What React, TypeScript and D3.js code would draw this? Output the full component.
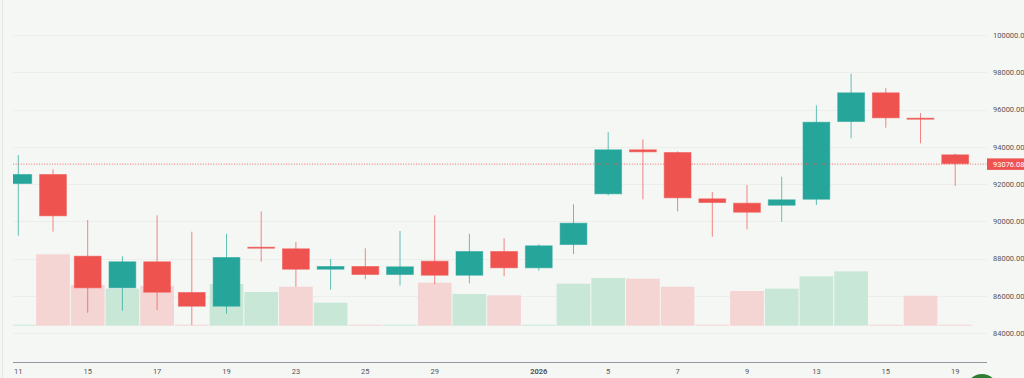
import React from "react";
import * as d3 from "d3";

const dates = [
  "2025-12-11", "2025-12-12", "2025-12-15", "2025-12-16", "2025-12-17", "2025-12-18", "2025-12-19",
  "2025-12-22", "2025-12-23", "2025-12-24", "2025-12-25", "2025-12-26", "2025-12-29", "2025-12-30",
  "2025-12-31", "2026-01-01", "2026-01-02", "2026-01-05", "2026-01-06", "2026-01-07", "2026-01-08",
  "2026-01-09", "2026-01-12", "2026-01-13", "2026-01-14", "2026-01-15", "2026-01-16", "2026-01-19",
];
const opens = [92010, 92546, 88163, 86414, 87863, 86216, 85427, 88646, 88560, 87412, 87611, 87128, 87895, 87090,
  88415, 87487, 88737, 91457, 93871, 93726, 91242, 91006, 90845, 91167, 95336, 96929, 95567, 93603];
const highs = [93566, 92798, 90078, 88131, 90330, 89451, 89343, 90545, 88898, 87986, 88560, 89488, 90330, 89343,
  89097, 88775, 90921, 94799, 94408, 93760, 91580, 91956, 92401, 96232, 97927, 97160, 95819, 93640];
const lows = [89236, 89451, 85105, 85212, 85250, 84445, 85052, 87841, 86500, 86339, 86897, 86554, 86645, 86682,
  87058, 87358, 88254, 91400, 91189, 90545, 89182, 89579, 89987, 90883, 94461, 95030, 94193, 91902];
const closes = [92546, 90277, 86414, 87863, 86178, 85427, 88093, 88539, 87412, 87611, 87128, 87594, 87090, 88415,
  87487, 88721, 89934, 93871, 93710, 91242, 90990, 90470, 91189, 95352, 96929, 95534, 95459, 93076.08];
const volumes = [0, 7140, 4070, 3700, 3970, 0, 4170, 3370, 3900, 2300, 0, 0, 4300, 3170,
  3040, 0, 4200, 4770, 4700, 3900, 0, 3470, 3700, 4940, 5440, 0, 3000, 0];
const volumeUp = [true, false, false, true, false, false, true, true, false, true, false, true, false, true,
  false, true, true, true, false, false, false, false, true, true, true, false, false, false];
const priceTicks = [84000, 86000, 88000, 90000, 92000, 94000, 96000, 98000, 100000];
const tickDates = ["2025-12-11", "2025-12-15", "2025-12-17", "2025-12-19", "2025-12-23", "2025-12-25",
  "2025-12-29", "2026-01-01", "2026-01-05", "2026-01-07", "2026-01-09", "2026-01-13", "2026-01-15", "2026-01-19"];
const lastPrice = 93076.08;

const UP = "#26a69a";
const DOWN = "#ef5350";
const BG = "#f5f7f5";
const FONT = "Roboto, 'Liberation Sans', sans-serif";

export default function App() {
  React.useEffect(() => {
    document.body.style.margin = "0";
    document.body.style.background = BG;
  }, []);
  const W = 1024, H = 378;
  const plotL = 13, plotR = 987, axisY = 362;
  const x = d3.scaleBand<string>().domain(dates).range([0.95, 0.95 + 34.7 * dates.length]).paddingInner(0);
  const step = x.step();
  const cx = (d: string) => (x(d) as number) + step / 2;
  const y = d3.scaleLinear().domain([84000, 100000]).range([333.3, 35.1]);
  const vMax = d3.max(volumes) as number;
  const vy = d3.scaleLinear().domain([0, vMax]).range([325.7, 254.3]);
  const bodyW = step * 0.8;
  const fmt = d3.format(".2f");
  const parse = d3.timeParse("%Y-%m-%d");
  const tickLabel = (s: string) => {
    const dt = parse(s) as Date;
    return dt.getMonth() === 0 && dt.getDate() === 1 ? String(dt.getFullYear()) : String(dt.getDate());
  };
  const yLast = y(lastPrice);

  return (
    <svg width={W} height={H} style={{ display: "block", background: BG }}>
      <defs>
        <clipPath id="plot">
          <rect x={plotL} y={0} width={plotR - plotL} height={axisY} />
        </clipPath>
      </defs>
      <rect x={0} y={0} width={W} height={H} fill={BG} />
      <line x1={2.5} x2={2.5} y1={0} y2={H} stroke="#e4e7e4" strokeWidth={1} />
      {priceTicks.map((p) => (
        <line key={p} x1={plotL} x2={plotR} y1={Math.round(y(p)) + 0.5} y2={Math.round(y(p)) + 0.5} stroke="#eceeec" strokeWidth={1} />
      ))}
      <g clipPath="url(#plot)">
        {dates.map((d, i) => {
          const top = Math.min(vy(volumes[i]), vy(0) - 1);
          return (
            <rect key={"v" + d} x={(x(d) as number) + 0.5} y={top} width={step - 1} height={vy(0) - top}
              fill={volumeUp[i] ? "#c9e7d6" : "#f5d4d4"} />
          );
        })}
        {dates.map((d, i) => {
          const up = closes[i] >= opens[i];
          const c = up ? UP : DOWN;
          const top = y(Math.max(opens[i], closes[i]));
          const bot = y(Math.min(opens[i], closes[i]));
          const h = Math.max(bot - top, 2);
          const xc = cx(d);
          return (
            <g key={"c" + d}>
              <line x1={xc} x2={xc} y1={y(highs[i])} y2={y(lows[i])} stroke={c} strokeOpacity={0.7} strokeWidth={1} />
              <rect x={xc - bodyW / 2 + 0.5} y={top + 0.5} width={bodyW - 1} height={h - 1} fill={c} stroke={c} strokeOpacity={0.55} strokeWidth={1} />
            </g>
          );
        })}
        <line x1={plotL} x2={plotR} y1={yLast} y2={yLast} stroke={DOWN} strokeWidth={1} strokeDasharray="1,1.6" strokeOpacity={0.85} />
      </g>
      <line x1={plotL} x2={plotR} y1={axisY + 0.5} y2={axisY + 0.5} stroke="#9598a1" strokeWidth={1} />
      {tickDates.map((t) => (
        <text key={t} x={cx(t)} y={374} textAnchor="middle" fontSize={7.5} fontFamily={FONT}
          fontWeight={tickLabel(t).length === 4 ? 700 : 400} fill="#555">
          {tickLabel(t)}
        </text>
      ))}
      {priceTicks.map((p) => (
        <text key={"p" + p} x={993} y={y(p)} dy="0.35em" fontSize={7.5} fontFamily={FONT} fill="#555">
          {fmt(p)}
        </text>
      ))}
      <rect x={987} y={yLast - 5.75} width={40} height={11.5} fill={DOWN} />
      <text x={993} y={yLast} dy="0.35em" fontSize={7.5} fontFamily={FONT} fill="#fff">
        {fmt(lastPrice)}
      </text>
      <circle cx={982} cy={390} r={16} fill="#2e7d32" />
    </svg>
  );
}
